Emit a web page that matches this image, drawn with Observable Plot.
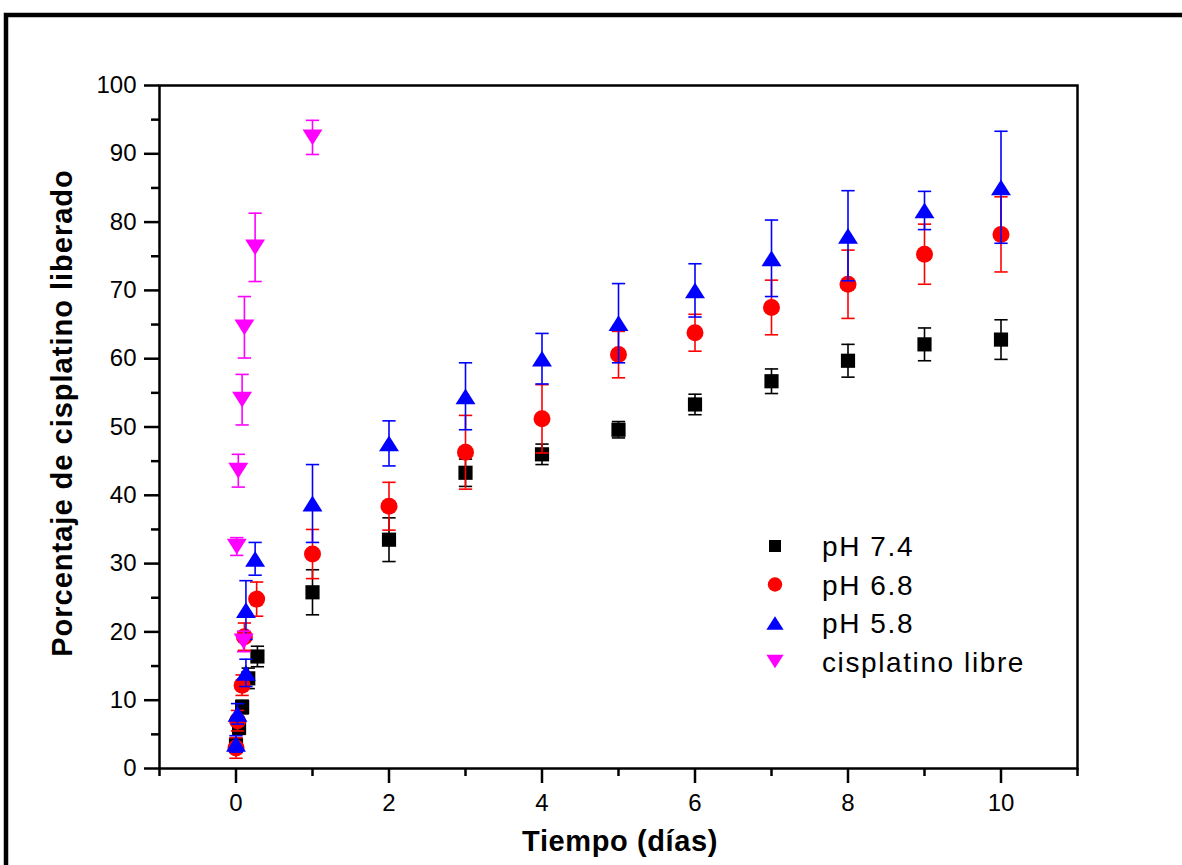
<!DOCTYPE html>
<html>
<head>
<meta charset="utf-8">
<script src="https://cdn.jsdelivr.net/npm/d3@7"></script>
<script src="https://cdn.jsdelivr.net/npm/@observablehq/plot@0.6"></script>
<style>
  html, body { margin: 0; padding: 0; background: #fff; }
  #chart { width: 1182px; height: 865px; overflow: hidden; }
</style>
</head>
<body>
<div id="chart"></div>
<script>
// ---- data ----
const seriesNames = ["pH 7.4", "pH 6.8", "pH 5.8", "cisplatino libre"];
const seriesColors = ["#000000", "#ff0000", "#0000ff", "#ff00ff"];

const days74 = [0, 0.04, 0.08, 0.16, 0.28, 1, 2, 3, 4, 5, 6, 7, 8, 9, 10];
const pct74  = [3.4, 6.0, 9.0, 13.2, 16.4, 25.8, 33.5, 43.3, 46.0, 49.6, 53.3, 56.7, 59.7, 62.1, 62.8];
const err74  = [1.0, 1.0, 1.0, 1.5, 1.5, 3.3, 3.2, 2.0, 1.5, 1.2, 1.5, 1.8, 2.4, 2.4, 2.9];

const days68 = [0, 0.02, 0.08, 0.11, 0.27, 1, 2, 3, 4, 5, 6, 7, 8, 9, 10];
const pct68  = [3.0, 7.0, 12.2, 19.3, 24.8, 31.4, 38.4, 46.3, 51.2, 60.6, 63.8, 67.5, 70.9, 75.3, 78.2];
const err68  = [1.5, 1.5, 1.5, 2.0, 2.5, 3.6, 3.5, 5.4, 5.0, 3.4, 2.7, 4.0, 5.0, 4.4, 5.5];

const days58 = [0, 0.02, 0.13, 0.13, 0.25, 1, 2, 3, 4, 5, 6, 7, 8, 9, 10];
const pct58  = [3.6, 8.0, 14.0, 23.2, 30.7, 38.8, 47.6, 54.5, 60.0, 65.2, 70.0, 74.7, 78.0, 81.7, 85.1];
const err58  = [1.2, 1.5, 2.0, 4.3, 2.4, 5.7, 3.3, 4.9, 3.7, 5.8, 3.9, 5.6, 6.6, 2.8, 8.2];

const daysLibre = [0.1, 0.01, 0.03, 0.08, 0.11, 0.25, 1.0];
const pctLibre  = [18.6, 32.5, 43.6, 54.0, 64.6, 76.3, 92.4];
const errLibre  = [1.5, 1.3, 2.4, 3.7, 4.5, 5.0, 2.5];

const xMajorTicks = [0, 2, 4, 6, 8, 10];
const xMinorTicks = [-1, 1, 3, 5, 7, 9, 11];
const yMajorTicks = [0, 10, 20, 30, 40, 50, 60, 70, 80, 90, 100];
const yMinorTicks = [5, 15, 25, 35, 45, 55, 65, 75, 85, 95];

const xLabel = "Tiempo (días)";
const yLabel = "Porcentaje de cisplatino liberado";

// ---- marker shapes ----
const triUp = {
  draw(ctx, size) {
    const r = Math.sqrt(size / Math.PI), w = 2.4 * r, h = 1.9 * r;
    ctx.moveTo(0, -h / 2); ctx.lineTo(w / 2, h / 2); ctx.lineTo(-w / 2, h / 2); ctx.closePath();
  }
};
const triDown = {
  draw(ctx, size) {
    const r = Math.sqrt(size / Math.PI), w = 2.4 * r, h = 1.9 * r;
    ctx.moveTo(0, h / 2); ctx.lineTo(w / 2, -h / 2); ctx.lineTo(-w / 2, -h / 2); ctx.closePath();
  }
};
const capSym = {
  draw(ctx, size) {
    const w = Math.sqrt(size);
    ctx.moveTo(-w / 2, 0); ctx.lineTo(w / 2, 0);
  }
};
const symbols = [d3.symbolSquare, d3.symbolCircle, triUp, triDown];
const radii = [8, 8.5, 8.3, 8.3];

// ---- build table ----
const raw = [
  [days74, pct74, err74],
  [days68, pct68, err68],
  [days58, pct58, err58],
  [daysLibre, pctLibre, errLibre]
];
const series = raw.map(([xs, ys, es], i) =>
  xs.map((x, j) => ({serie: seriesNames[i], x, y: ys[j], e: es[j]}))
);

const marks = [];
series.forEach((rows, i) => {
  const c = seriesColors[i];
  marks.push(Plot.ruleX(rows, {x: "x", y1: d => d.y - d.e, y2: d => d.y + d.e, stroke: c, strokeWidth: 1.6}));
  marks.push(Plot.dot(rows, {x: "x", y: d => d.y + d.e, symbol: capSym, r: 7.5, stroke: c, strokeWidth: 1.6, fill: "none"}));
  marks.push(Plot.dot(rows, {x: "x", y: d => d.y - d.e, symbol: capSym, r: 7.5, stroke: c, strokeWidth: 1.6, fill: "none"}));
  marks.push(Plot.dot(rows, {x: "x", y: "y", symbol: symbols[i], r: radii[i], fill: c, stroke: "none"}));
});

const W = 1182, H = 865;
const mL = 159, mT = 85, mR = W - 1077, mB = H - 768;
const FONT = "Arial, 'Liberation Sans', sans-serif";

const chart = Plot.plot({
  width: W,
  height: H,
  marginLeft: mL, marginRight: mR, marginTop: mT, marginBottom: mB,
  style: {fontFamily: FONT, background: "#fff", color: "#000"},
  x: {domain: [-1, 11]},
  y: {domain: [0, 100]},
  marks: [
    Plot.axisX(xMajorTicks, {tickSize: 15, tickPadding: 10, fontSize: 24, strokeWidth: 2.5, label: null}),
    Plot.axisX(xMinorTicks, {tickSize: 8, strokeWidth: 2.5, text: null, label: null}),
    Plot.axisY(yMajorTicks, {tickSize: 15, tickPadding: 8, fontSize: 24, strokeWidth: 2.5, label: null}),
    Plot.axisY(yMinorTicks, {tickSize: 8, strokeWidth: 2.5, text: null, label: null}),
    ...marks,
    Plot.frame({stroke: "#000", strokeWidth: 2.5})
  ]
});

const svg = d3.select(chart);
// outer border
svg.append("rect").attr("x", 6).attr("y", 15).attr("width", 1300).attr("height", 1000)
  .attr("fill", "none").attr("stroke", "#000").attr("stroke-width", 4.5);

// axis titles
svg.append("text").attr("x", 620).attr("y", 851).attr("text-anchor", "middle")
  .attr("font-family", FONT).attr("font-weight", "bold").attr("letter-spacing", 0.6)
  .attr("font-size", 29).text(xLabel);
svg.append("text").attr("transform", "translate(72,413) rotate(-90)").attr("text-anchor", "middle")
  .attr("font-family", FONT).attr("font-weight", "bold").attr("letter-spacing", 1.0)
  .attr("font-size", 29).text(yLabel);

// legend
const lg = svg.append("g").attr("font-family", FONT).attr("font-size", 28)
  .attr("text-anchor", "start").attr("letter-spacing", 1.6);
const legendSizes = [6.8, 7.2, 7.2, 7.2];
seriesNames.forEach((name, i) => {
  const yy = 546 + i * 38.5;
  lg.append("path")
    .attr("transform", `translate(775,${yy})`)
    .attr("d", d3.symbol(symbols[i], Math.PI * legendSizes[i] ** 2)())
    .attr("fill", seriesColors[i]);
  lg.append("text").attr("x", 822).attr("y", yy).attr("dy", "0.36em").attr("text-anchor", "start").text(name);
});

document.getElementById("chart").appendChild(chart);
</script>
</body>
</html>
